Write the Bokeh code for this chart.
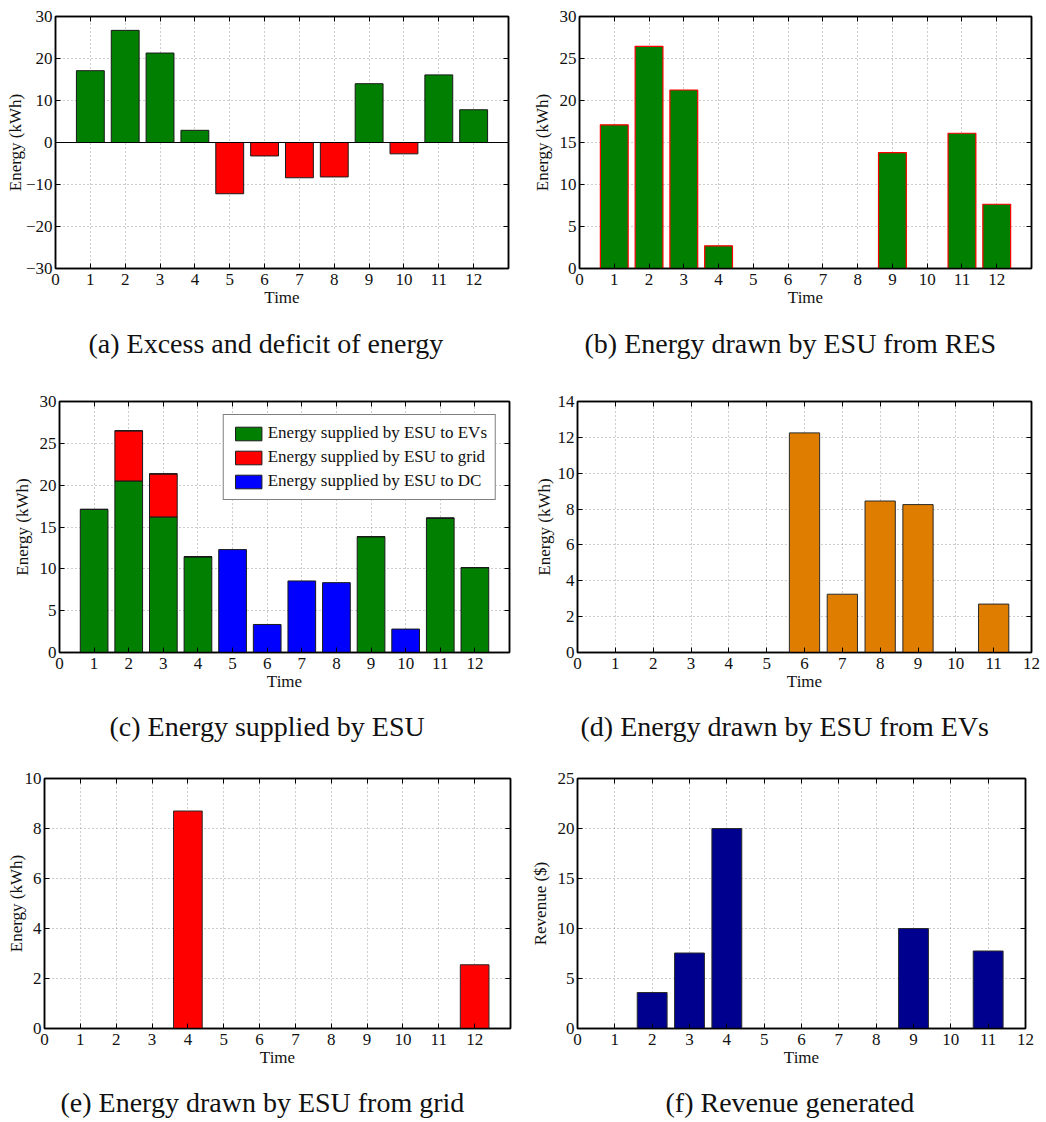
from bokeh.plotting import figure
from bokeh.models import Range1d, LinearAxis, Title, Span, ColumnDataSource, Legend
from bokeh.layouts import column, row
from bokeh.embed import file_html
from bokeh.resources import INLINE

# ---------------- data ----------------
time = [1, 2, 3, 4, 5, 6, 7, 8, 9, 10, 11, 12]
x_ticks = [0, 1, 2, 3, 4, 5, 6, 7, 8, 9, 10, 11, 12]

excess_deficit = [17.1, 26.7, 21.3, 2.9, -12.2, -3.2, -8.4, -8.2, 14.0, -2.7, 16.1, 7.8]
drawn_from_res = [17.1, 26.45, 21.25, 2.7, 0, 0, 0, 0, 13.8, 0, 16.1, 7.65]
supplied_to_evs = [17.1, 20.5, 16.2, 11.45, 0, 0, 0, 0, 13.85, 0, 16.05, 10.15]
supplied_to_grid = [0, 6.0, 5.15, 0, 0, 0, 0, 0, 0, 0, 0, 0]
supplied_to_dc = [0, 0, 0, 0, 12.3, 3.35, 8.55, 8.35, 0, 2.8, 0, 0]
drawn_from_evs = [0, 0, 0, 0, 0, 12.25, 3.25, 8.45, 8.25, 0, 2.7, 0]
drawn_from_grid = [0, 0, 0, 8.7, 0, 0, 0, 0, 0, 0, 0, 2.55]
revenue = [0, 3.6, 7.55, 20.0, 0, 0, 0, 0, 10.0, 0, 7.75, 0]

yticks_a = [-30, -20, -10, 0, 10, 20, 30]
yticks_b = [0, 5, 10, 15, 20, 25, 30]
yticks_c = [0, 5, 10, 15, 20, 25, 30]
yticks_d = [0, 2, 4, 6, 8, 10, 12, 14]
yticks_e = [0, 2, 4, 6, 8, 10]
yticks_f = [0, 5, 10, 15, 20, 25]

legend_labels = ["Energy supplied by ESU to EVs", "Energy supplied by ESU to grid",
                 "Energy supplied by ESU to DC"]
captions = ["(a) Excess and deficit of energy", "(b) Energy drawn by ESU from RES",
            "(c) Energy supplied by ESU", "(d) Energy drawn by ESU from EVs",
            "(e) Energy drawn by ESU from grid", "(f) Revenue generated"]

FONT = "Liberation Serif"
GREEN = "#007F00"
RED = "#FF0000"
BLUE = "#0000FF"
ORANGE = "#DE7D00"
NAVY = "#00008F"
EDGE = "#1a1a1a"


def panel(width, height, bl, br, bt, bb, xr, yr, yticks, ylabel, ylabel_standoff,
          caption, cap_offset, cap_gap, overrides=None):
    p = figure(width=width, height=height, x_range=Range1d(*xr), y_range=Range1d(*yr),
               output_backend="svg", toolbar_location=None,
               min_border_left=bl, min_border_right=br, min_border_top=bt,
               min_border_bottom=bb)
    p.background_fill_color = "white"
    p.border_fill_color = "white"
    p.outline_line_color = "black"
    p.outline_line_width = 1.5

    p.xaxis.ticker = x_ticks
    p.yaxis.ticker = yticks
    if overrides:
        p.yaxis.major_label_overrides = overrides
    for ax in (p.xaxis[0], p.yaxis[0]):
        ax.major_tick_in = 5
        ax.major_tick_out = 0
        ax.minor_tick_in = 0
        ax.minor_tick_out = 0
        ax.axis_line_color = "black"
        ax.axis_line_width = 1.5
        ax.major_tick_line_width = 1
        ax.major_label_text_font = FONT
        ax.major_label_text_font_size = "17px"
        ax.major_label_text_color = "#111111"
        ax.axis_label_text_font = FONT
        ax.axis_label_text_font_size = "17px"
        ax.axis_label_text_font_style = "normal"
        ax.axis_label_text_color = "#111111"
    p.xaxis.major_label_standoff = 5
    p.yaxis.major_label_standoff = 3
    p.xaxis.axis_label = "Time"
    p.xaxis.axis_label_standoff = 0
    p.yaxis.axis_label = ylabel
    p.yaxis.axis_label_standoff = ylabel_standoff

    # mirrored ticks on top and right (box on)
    top = LinearAxis(ticker=x_ticks, major_tick_in=5, major_tick_out=0,
                     minor_tick_in=0, minor_tick_out=0,
                     major_label_text_font_size="0px", major_label_text_color=None,
                     major_label_standoff=0, axis_line_color="black", axis_line_width=1.5)
    right = LinearAxis(ticker=yticks, major_tick_in=5, major_tick_out=0,
                       minor_tick_in=0, minor_tick_out=0,
                       major_label_text_font_size="0px", major_label_text_color=None,
                       major_label_standoff=0, axis_line_color="black", axis_line_width=1.5)
    p.add_layout(top, "above")
    p.add_layout(right, "right")

    p.xgrid.ticker = x_ticks
    p.ygrid.ticker = yticks
    for g in (p.xgrid[0], p.ygrid[0]):
        g.grid_line_color = "#9a9a9a"
        g.grid_line_dash = "1 3"
        g.grid_line_width = 1

    # invisible (white) spacer between the x axis and the sub-figure caption
    spacer = LinearAxis(ticker=[0], major_tick_in=0, major_tick_out=cap_gap,
                        minor_tick_in=0, minor_tick_out=0, major_tick_line_color="white",
                        axis_line_color=None,
                        major_label_text_font_size="0px", major_label_text_color=None,
                        major_label_standoff=0)
    p.add_layout(spacer, "below")
    p.add_layout(Title(text=caption, align="left", offset=cap_offset, standoff=0,
                       text_font=FONT, text_font_size="28px", text_font_style="normal",
                       text_color="#111111"), "below")
    return p


# (a)
pa = panel(520, 374, 55, 12, 16, 106, (0, 13), (-30, 30), yticks_a, "Energy (kWh)", -2,
           captions[0], 33, 16,
           overrides={-30: "\u221230", -20: "\u221220", -10: "\u221210"})
src_a = ColumnDataSource(dict(t=time, v=excess_deficit,
                              c=[GREEN if v >= 0 else RED for v in excess_deficit]))
pa.vbar(x="t", top="v", bottom=0, width=0.8, fill_color="c", line_color=EDGE,
        line_width=1, source=src_a)
pa.add_layout(Span(location=0, dimension="width", line_color="black", line_width=1.2))

# (b)
pb = panel(526, 374, 59, 15, 16, 105, (0, 13), (0, 30), yticks_b, "Energy (kWh)", 5,
           captions[1], 5, 16)
pb.vbar(x=time, top=drawn_from_res, bottom=0, width=0.8, fill_color=GREEN,
        line_color=RED, line_width=1.2)

# (c)
pc = panel(520, 378, 59, 11, 20, 97, (0, 13), (0, 30), yticks_c, "Energy (kWh)", 5,
           captions[2], 50, 15)
src_c = ColumnDataSource(dict(t=time, evs=supplied_to_evs, grid=supplied_to_grid,
                              dc=supplied_to_dc))
rs = pc.vbar_stack(["evs", "grid", "dc"], x="t", width=0.8, color=[GREEN, RED, BLUE],
                   line_color=EDGE, line_width=1, source=src_c)
leg = Legend(items=[(legend_labels[i], [rs[i]]) for i in range(3)], location="top_right")
leg.margin = 13
leg.padding = 8
leg.spacing = 4
leg.glyph_width = 33
leg.glyph_height = 17
leg.label_height = 17
leg.label_standoff = 3
leg.label_text_font = FONT
leg.label_text_font_size = "17px"
leg.label_text_color = "#111111"
leg.border_line_color = "black"
leg.border_line_width = 1
leg.background_fill_color = "white"
leg.background_fill_alpha = 1
pc.add_layout(leg)

# (d)
pd_ = panel(526, 378, 57, 15, 27, 100, (0, 12), (0, 14), yticks_d, "Energy (kWh)", 1,
            captions[3], 3, 15)
pd_.vbar(x=time, top=drawn_from_evs, bottom=0, width=0.8, fill_color=ORANGE,
         line_color="#2a2a2a", line_width=1)

# (e)
pe = panel(520, 370, 44, 10, 24, 93, (0, 13), (0, 10), yticks_e, "Energy (kWh)", -4,
           captions[4], 16, 15)
pe.vbar(x=time, top=drawn_from_grid, bottom=0, width=0.8, fill_color=RED,
        line_color="#2a2a2a", line_width=1)

# (f)
pf = panel(526, 370, 57, 21, 26, 94, (0, 12), (0, 25), yticks_f, "Revenue ($)", 5,
           captions[5], 88, 15)
pf.vbar(x=time, top=revenue, bottom=0, width=0.8, fill_color=NAVY,
        line_color="#2a2a2a", line_width=1)

layout = column(row(pa, pb), row(pc, pd_), row(pe, pf))
open("out.html", "w").write(file_html(layout, INLINE))
